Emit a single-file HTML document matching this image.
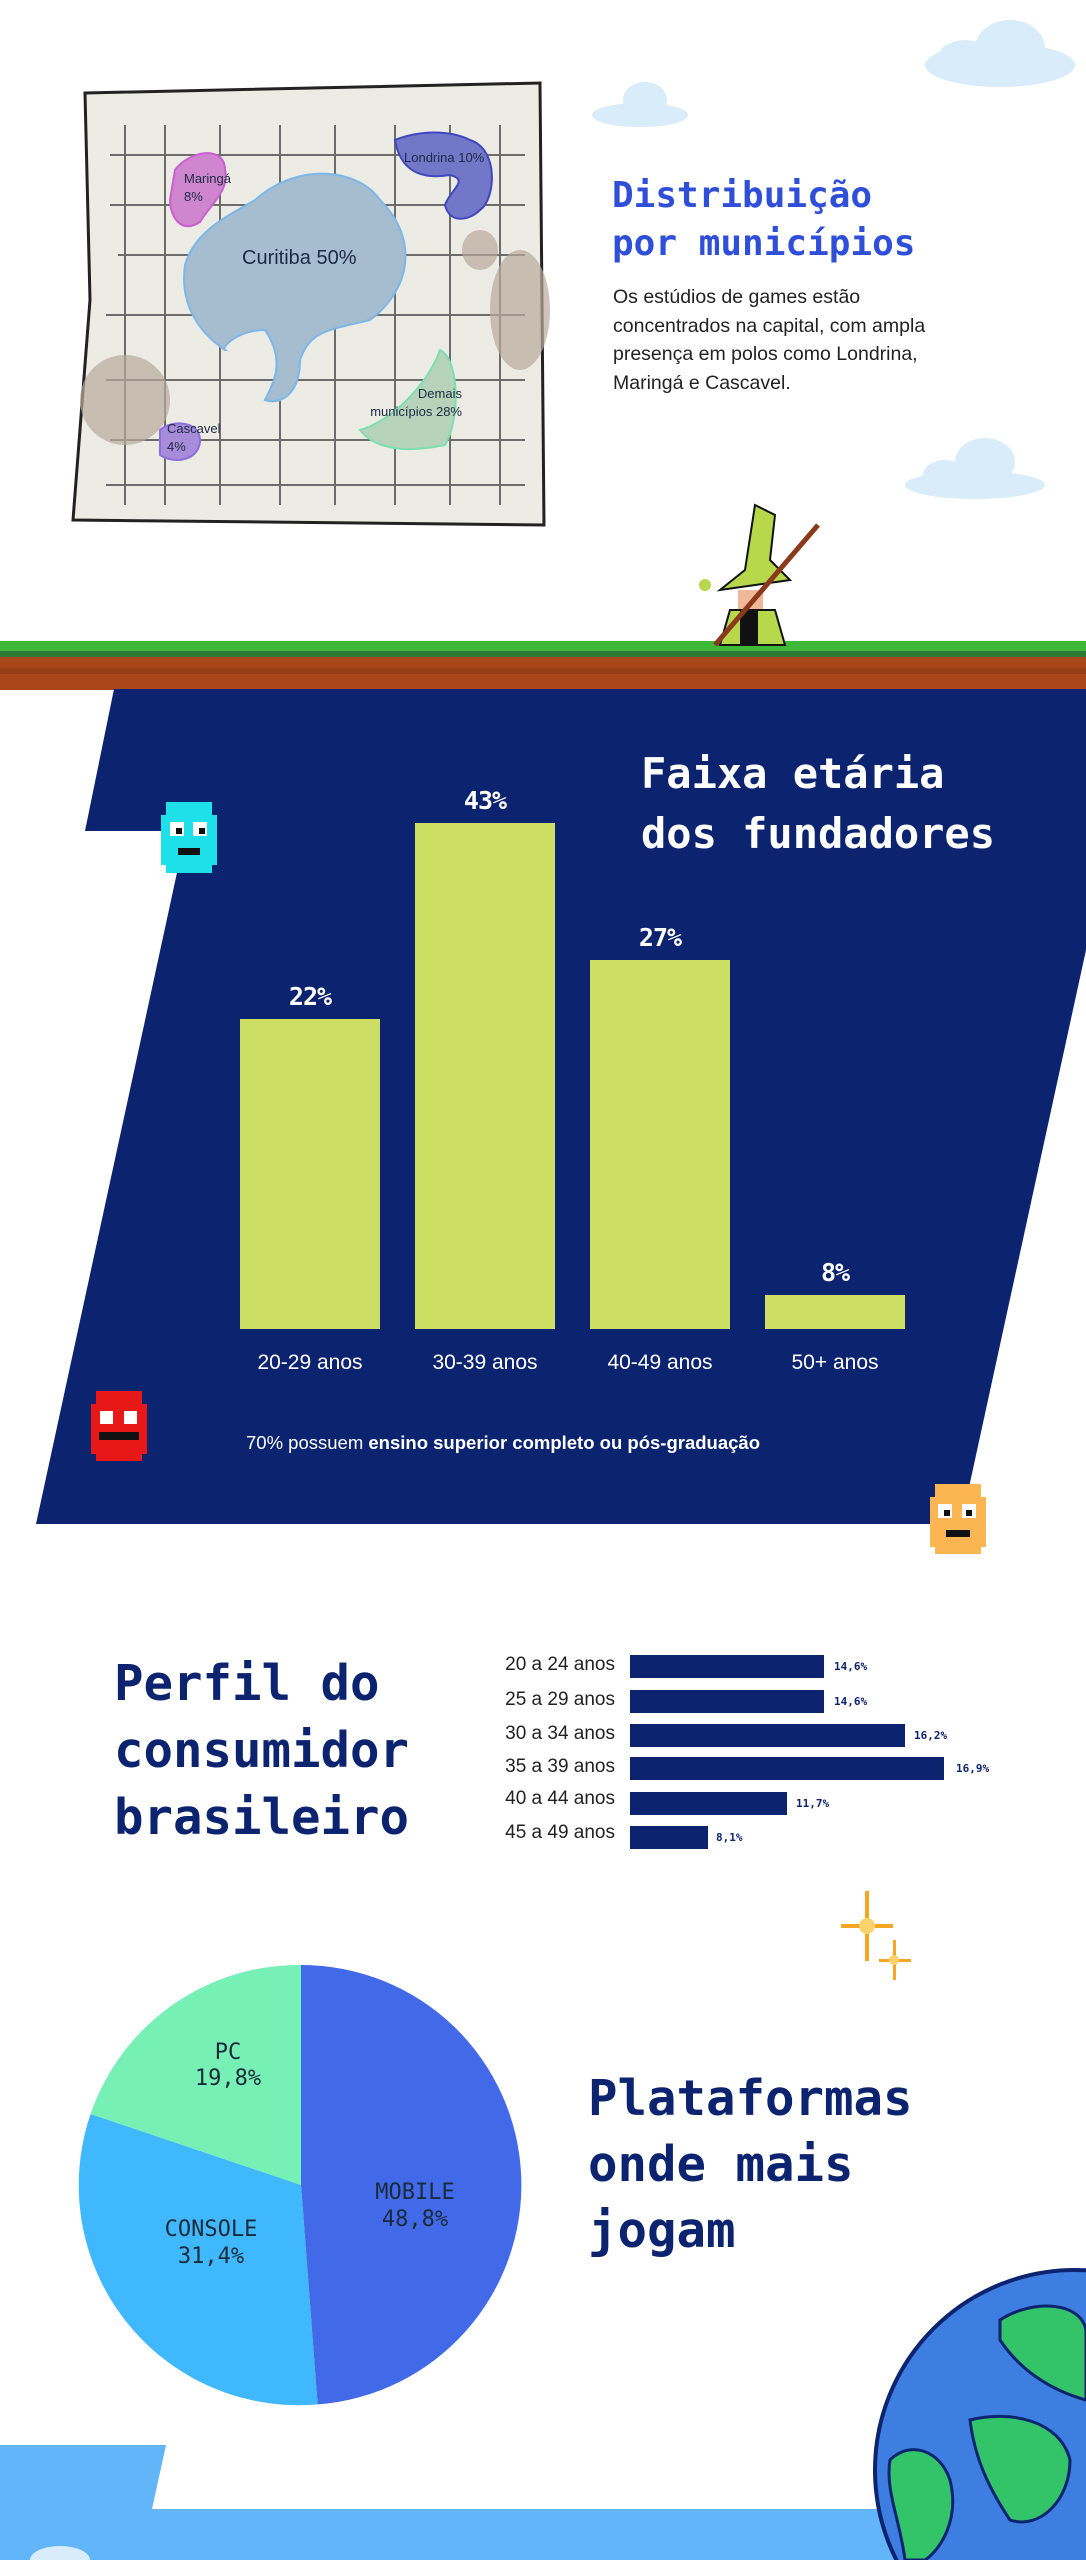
<!DOCTYPE html>
<html><head><meta charset="utf-8"><style>
*{margin:0;padding:0;box-sizing:border-box}
body{width:1086px;height:2560px;position:relative;background:#fff;overflow:hidden;font-family:"Liberation Sans",sans-serif}
.a{position:absolute}
.px{font-family:"DejaVu Sans Mono",monospace;font-weight:bold;white-space:nowrap}
.lab{color:#fff;font-size:21px;text-align:center;width:140px}
.val{color:#fff;font-size:25px;text-align:center;width:140px;letter-spacing:-1px}
.rl{width:200px;text-align:right;left:415px;font-size:19px;color:#222}
.bar{background:#0c2470;height:23px;left:630px}
.bv{font-size:11px;color:#0c2470}
</style></head><body>
<svg class="a" style="left:0;top:0" width="1086" height="2560">
 <!-- clouds -->
 <g fill="#d8ecfa">
  <ellipse cx="1000" cy="65" rx="75" ry="22"/><ellipse cx="1010" cy="48" rx="35" ry="28"/><ellipse cx="965" cy="60" rx="28" ry="20"/>
  <ellipse cx="640" cy="115" rx="48" ry="12"/><ellipse cx="645" cy="100" rx="22" ry="18"/>
  <ellipse cx="975" cy="485" rx="70" ry="14"/><ellipse cx="985" cy="462" rx="30" ry="24"/><ellipse cx="945" cy="475" rx="22" ry="15"/>
 </g>
 <!-- map paper -->
 <polygon points="85,93 540,83 544,525 73,520 90,300" fill="#ecebe4" stroke="#222" stroke-width="3"/>
 <g stroke="#6c6c6c" stroke-width="2" fill="none">
  <path d="M110,155 H525 M110,205 H525 M118,255 H525 M106,315 H525 M106,380 H525 M110,440 H525 M106,485 H525"/>
  <path d="M125,125 V505 M165,125 V505 M220,125 V505 M280,125 V505 M335,125 V505 M395,125 V505 M450,125 V505 M500,125 V505"/>
 </g>
 <g fill="#b9aa9b" opacity="0.7"><ellipse cx="125" cy="400" rx="45" ry="45"/><ellipse cx="520" cy="310" rx="30" ry="60"/><ellipse cx="480" cy="250" rx="18" ry="20"/></g>
 <path d="M255,200 C300,160 360,170 380,200 C420,240 410,290 370,320 C330,330 310,330 300,360 C300,395 280,405 265,400 C275,380 285,360 265,330 C235,330 220,350 225,350 C195,330 180,300 185,265 C195,230 230,215 255,200Z" fill="#a6bccf" stroke="#7ab8ea" stroke-width="2"/>
 <path d="M395,140 C420,130 450,130 470,140 C500,150 495,200 480,210 C470,220 450,225 445,205 C450,190 470,180 450,175 C420,180 400,170 395,140Z" fill="#7377c8" stroke="#3f48c0" stroke-width="2"/>
 <path d="M175,170 C190,150 225,145 225,170 C230,190 210,205 200,222 C180,235 170,215 170,200 Z" fill="#cf86cf" stroke="#c95fd0" stroke-width="2"/>
 <path d="M160,430 C170,420 200,420 200,440 C200,460 175,465 160,455Z" fill="#a98cd9" stroke="#8c6fe0" stroke-width="2"/>
 <path d="M360,430 C395,420 430,380 440,350 C460,360 460,420 445,445 C420,450 380,455 360,430Z" fill="#b7d3b9" stroke="#7be0b0" stroke-width="2"/>
 <!-- ground -->
 <rect x="0" y="641" width="1086" height="14" fill="#3fb838"/>
 <rect x="0" y="651" width="1086" height="6" fill="#2c7a34"/>
 <rect x="0" y="657" width="1086" height="33" fill="#a9471a"/>
 <rect x="0" y="668" width="1086" height="6" fill="#8a3515" opacity="0.6"/>
 <!-- wizard -->
 <polygon points="755,505 775,515 770,560 790,580 720,590 745,570" fill="#b7d84a" stroke="#111" stroke-width="2"/>
 <rect x="738" y="590" width="25" height="22" fill="#f0b89a"/>
 <polygon points="730,610 775,610 785,645 720,645" fill="#b7d84a" stroke="#111" stroke-width="2"/>
 <rect x="740" y="610" width="18" height="35" fill="#111"/>
 <line x1="715" y1="645" x2="818" y2="525" stroke="#8a3a1a" stroke-width="5"/>
 <circle cx="705" cy="585" r="6" fill="#b7d84a"/>
 <!-- navy section -->
 <polygon points="114,689 1086,689 1086,950 961,1524 36,1524 186,831 85,831" fill="#0c2470"/>
 <rect x="240" y="1019" width="140" height="310" fill="#cddf63"/>
 <rect x="415" y="823" width="140" height="506" fill="#cddf63"/>
 <rect x="590" y="960" width="140" height="369" fill="#cddf63"/>
 <rect x="765" y="1295" width="140" height="34" fill="#cddf63"/>
 <!-- ghosts -->
 <g><rect x="166" y="802" width="46" height="71" fill="#1de0e8"/><rect x="161" y="815" width="56" height="50" fill="#1de0e8"/>
 <rect x="170" y="822" width="14" height="14" fill="#fff"/><rect x="193" y="822" width="14" height="14" fill="#fff"/><rect x="176" y="828" width="6" height="6" fill="#111"/><rect x="199" y="828" width="6" height="6" fill="#111"/><rect x="178" y="848" width="22" height="7" fill="#111"/></g>
 <g><rect x="96" y="1391" width="46" height="70" fill="#e81818"/><rect x="91" y="1404" width="56" height="50" fill="#e81818"/>
 <rect x="100" y="1411" width="13" height="13" fill="#fff"/><rect x="124" y="1411" width="13" height="13" fill="#fff"/><rect x="99" y="1432" width="40" height="8" fill="#111"/></g>
 <g><rect x="935" y="1484" width="46" height="70" fill="#fbb552"/><rect x="930" y="1497" width="56" height="50" fill="#fbb552"/>
 <rect x="938" y="1504" width="14" height="14" fill="#fff"/><rect x="962" y="1504" width="14" height="14" fill="#fff"/><rect x="944" y="1510" width="6" height="6" fill="#111"/><rect x="966" y="1510" width="6" height="6" fill="#111"/><rect x="946" y="1530" width="24" height="7" fill="#111"/></g>
 <!-- sparkles -->
 <g fill="#f6a623"><rect x="865" y="1891" width="4" height="70"/><rect x="841" y="1924" width="52" height="4"/><circle cx="867" cy="1926" r="8" fill="#fcd36a"/>
 <rect x="893" y="1940" width="3" height="40"/><rect x="879" y="1959" width="32" height="3"/><circle cx="894" cy="1960" r="5" fill="#fcd36a"/></g>
 <!-- pie -->
 <path d="M301,2185 L301,1965 A220,220 0 0,1 317.6,2404.4 Z" fill="#4169e8"/>
 <path d="M301,2185 L317.6,2404.4 A220,220 0 0,1 90.6,2114.0 Z" fill="#40b8fd"/>
 <path d="M301,2185 L90.6,2114.0 A220,220 0 0,1 301,1965 Z" fill="#77f0b6"/>
 <!-- bottom band -->
 <polygon points="0,2445 166,2445 152,2509 1086,2509 1086,2560 0,2560" fill="#62b5f9"/>
 <ellipse cx="60" cy="2560" rx="30" ry="14" fill="#d8ecfa"/>
 <!-- globe -->
 <circle cx="1075" cy="2470" r="200" fill="#3d7ee0" stroke="#0c2470" stroke-width="4"/>
 <path d="M1000,2320 C1030,2300 1080,2300 1086,2330 L1086,2400 C1050,2390 1020,2370 1000,2340Z" fill="#33c46a" stroke="#0c2470" stroke-width="3"/>
 <path d="M890,2460 C910,2440 940,2450 950,2480 C960,2520 940,2550 925,2560 L905,2560 C900,2520 885,2490 890,2460Z" fill="#33c46a" stroke="#0c2470" stroke-width="3"/>
 <path d="M970,2420 C1010,2410 1060,2420 1070,2460 C1070,2500 1040,2530 1010,2520 C990,2490 975,2460 970,2420Z" fill="#33c46a" stroke="#0c2470" stroke-width="3"/>
</svg>

<!-- section 1 text -->
<div class="a px" style="left:612px;top:172px;font-size:36px;line-height:48px;color:#2f4fd8">Distribuição<br>por municípios</div>
<div class="a" style="left:613px;top:283px;font-size:19.5px;line-height:28.5px;color:#222;width:420px">Os estúdios de games estão<br>concentrados na capital, com ampla<br>presença em polos como Londrina,<br>Maringá e Cascavel.</div>
<div class="a" style="left:242px;top:247px;font-size:20px;color:#1c2a44">Curitiba 50%</div>
<div class="a" style="left:404px;top:150px;font-size:13px;color:#1c2a44">Londrina 10%</div>
<div class="a" style="left:184px;top:170px;font-size:13px;line-height:18px;color:#1c2a44">Maringá<br>8%</div>
<div class="a" style="left:167px;top:420px;font-size:13px;line-height:18px;color:#1c2a44">Cascavel<br>4%</div>
<div class="a" style="left:356px;top:385px;font-size:13px;line-height:18px;color:#1c2a44;text-align:right;width:106px">Demais<br>municípios 28%</div>

<!-- section 2 text -->
<div class="a px" style="left:641px;top:744px;font-size:42px;line-height:60px;color:#fff">Faixa etária<br>dos fundadores</div>
<div class="a px val" style="left:240px;top:982px">22%</div>
<div class="a px val" style="left:415px;top:786px">43%</div>
<div class="a px val" style="left:590px;top:923px">27%</div>
<div class="a px val" style="left:765px;top:1258px">8%</div>
<div class="a lab" style="left:240px;top:1351px">20-29 anos</div>
<div class="a lab" style="left:415px;top:1351px">30-39 anos</div>
<div class="a lab" style="left:590px;top:1351px">40-49 anos</div>
<div class="a lab" style="left:765px;top:1351px">50+ anos</div>
<div class="a" style="left:246px;top:1432px;font-size:18.5px;color:#fff;white-space:nowrap">70% possuem <b>ensino superior completo ou pós-graduação</b></div>

<!-- section 3 -->
<div class="a px" style="left:114px;top:1650px;font-size:49px;line-height:67px;color:#0c2470">Perfil do<br>consumidor<br>brasileiro</div>
<div class="a rl" style="top:1654px">20 a 24 anos</div>
<div class="a rl" style="top:1689px">25 a 29 anos</div>
<div class="a rl" style="top:1723px">30 a 34 anos</div>
<div class="a rl" style="top:1756px">35 a 39 anos</div>
<div class="a rl" style="top:1788px">40 a 44 anos</div>
<div class="a rl" style="top:1822px">45 a 49 anos</div>
<div class="a bar" style="top:1655px;width:194px"></div>
<div class="a bar" style="top:1690px;width:194px"></div>
<div class="a bar" style="top:1724px;width:275px"></div>
<div class="a bar" style="top:1757px;width:314px"></div>
<div class="a bar" style="top:1792px;width:157px"></div>
<div class="a bar" style="top:1826px;width:78px"></div>
<div class="a px bv" style="left:834px;top:1660px">14,6%</div>
<div class="a px bv" style="left:834px;top:1695px">14,6%</div>
<div class="a px bv" style="left:914px;top:1729px">16,2%</div>
<div class="a px bv" style="left:956px;top:1762px">16,9%</div>
<div class="a px bv" style="left:796px;top:1797px">11,7%</div>
<div class="a px bv" style="left:716px;top:1831px">8,1%</div>

<div class="a px" style="left:158px;top:2040px;width:140px;text-align:center;font-size:22px;line-height:26px;color:#1a2a3a;font-weight:normal">PC<br>19,8%</div>
<div class="a px" style="left:335px;top:2179px;width:160px;text-align:center;font-size:22px;line-height:27px;color:#1a2a3a;font-weight:normal">MOBILE<br>48,8%</div>
<div class="a px" style="left:126px;top:2216px;width:170px;text-align:center;font-size:22px;line-height:27px;color:#1a2a3a;font-weight:normal">CONSOLE<br>31,4%</div>
<div class="a px" style="left:588px;top:2066px;font-size:49px;line-height:66px;color:#0c2470">Plataformas<br>onde mais<br>jogam</div>
</body></html>
